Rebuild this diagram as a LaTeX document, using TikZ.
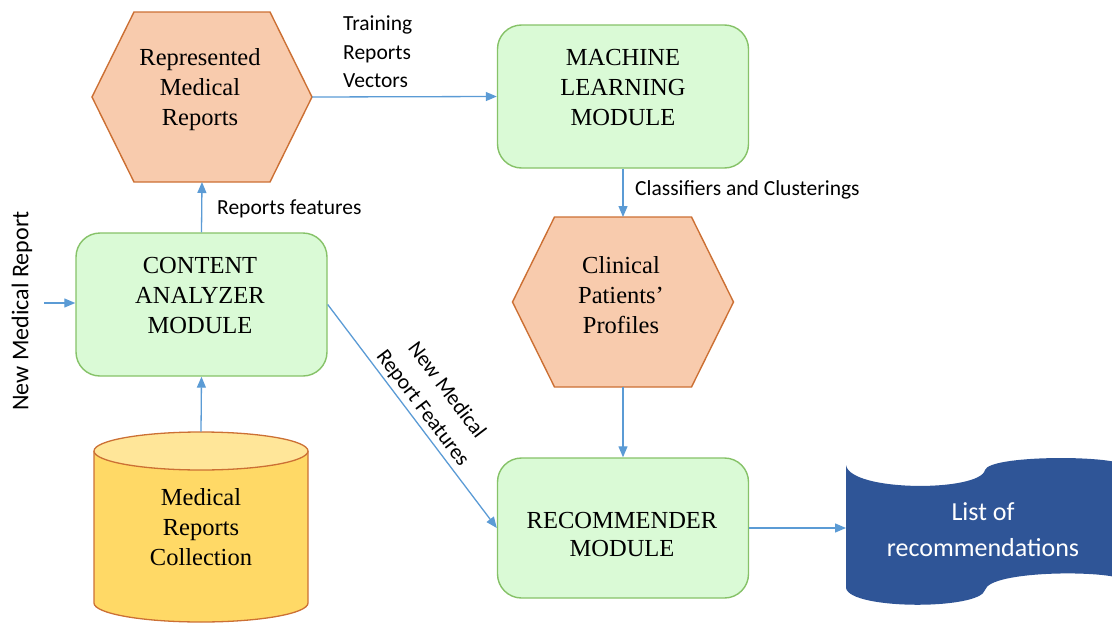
\documentclass[tikz,border=0pt]{standalone}
\usepackage{fontspec}
\setmainfont{Liberation Serif}
\newfontfamily\calib{Carlito}
\usetikzlibrary{arrows.meta,calc}
\definecolor{boxfill}{RGB}{218,250,214}
\definecolor{boxline}{RGB}{134,194,104}
\definecolor{hexfill}{RGB}{248,203,173}
\definecolor{hexline}{RGB}{204,112,52}
\definecolor{cylfill}{RGB}{255,217,102}
\definecolor{cyltop}{RGB}{255,230,153}
\definecolor{cylline}{RGB}{204,112,52}
\definecolor{tapefill}{RGB}{47,85,151}
\definecolor{arrowc}{RGB}{91,155,213}
\begin{document}
\begin{tikzpicture}[x=1pt,y=-1pt,
  module/.style={draw=boxline, fill=boxfill, line width=1.4pt, rounded corners=24pt, minimum width=251pt, minimum height=143pt, inner sep=0pt},
  serif/.style={font=\fontsize{24.5}{30}\selectfont, align=center, inner sep=0pt},
  lbl/.style={font=\calib\fontsize{21.5}{28.5}\selectfont, inner sep=0pt},
  hexshape/.style={draw=hexline, fill=hexfill, line width=1.4pt, line join=miter},
  flow/.style={draw=arrowc, line width=1.3pt, -{Triangle[length=11pt,width=9pt]}},
  ghost/.style={inner sep=0pt, outer sep=0pt}]
\useasboundingbox (0,0) rectangle (1112,624);
\clip (0,0) rectangle (1112,624);

% Represented Medical Reports hexagon
\node[ghost, minimum width=220pt, minimum height=170pt] (rep) at (202,97) {};
\path[hexshape] (rep.west) -- ($(rep.north west)+(42,0)$) -- ($(rep.north east)+(-42,0)$) -- (rep.east) -- ($(rep.south east)+(-42,0)$) -- ($(rep.south west)+(42,0)$) -- cycle;
\node[serif] (reptext) at (200,90) {Represented\\Medical\\Reports};

% Clinical Patients' Profiles hexagon
\node[ghost, minimum width=221pt, minimum height=170pt] (clin) at (623,302) {};
\path[hexshape] (clin.west) -- ($(clin.north west)+(42,0)$) -- ($(clin.north east)+(-42,0)$) -- (clin.east) -- ($(clin.south east)+(-42,0)$) -- ($(clin.south west)+(42,0)$) -- cycle;
\node[serif] (clintext) at (621,295) {Clinical\\Patients’\\Profiles};

% Modules
\node[module] (ml) at (623,96.5) {};
\node[serif] (mltext) at (623,88) {MACHINE\\LEARNING\\MODULE};
\node[module] (ca) at (201.5,304.5) {};
\node[serif] (catext) at (200,296) {CONTENT\\ANALYZER\\MODULE};
\node[module, minimum height=140pt] (rec) at (623,528) {};
\node[serif, font=\fontsize{24.5}{28}\selectfont] (rectext) at (622,535) {RECOMMENDER\\MODULE};

% Cylinder
\node[ghost, minimum width=214pt, minimum height=191pt] (cyl) at (201,527) {};
\path[fill=cylfill, draw=cylline, line width=1.3pt] (94,451) -- (94,603) .. controls (94,613.5) and (141.9,622) .. (201,622) .. controls (260.1,622) and (308,613.5) .. (308,603) -- (308,451);
\path[fill=cyltop, draw=cylline, line width=1.3pt] (201,451) ellipse [x radius=107pt, y radius=19pt];
\node[serif] (cyltext) at (201,527) {Medical\\Reports\\Collection};

% Tape shape
\node[ghost, minimum width=278pt, minimum height=120pt] (tape) at (985,530) {};
\path[fill=tapefill] (846,465) .. controls (850,492) and (980,492) .. (985,470) .. controls (990,455) and (1110,455) .. (1124,465) -- (1124,580) .. controls (1110,570) and (990,570) .. (985,590) .. controls (980,610) and (850,610) .. (846,588) -- cycle;
\node[ghost, font=\calib\fontsize{26}{36}\selectfont, text=white, align=center] (tapetext) at (983,530) {List of\\recommendations};

% Connectors
\draw[flow] (rep.east) -- (ml.west);
\node[lbl, anchor=west, align=left] (trlbl) at (343,52) {Training\\Reports\\Vectors};
\draw[flow] (ca.north) -- (rep.south);
\node[lbl, anchor=west] (rflbl) at (217,209) {Reports features};
\draw[flow] (cyl.north) -- (ca.south);
\coordinate (nmr) at (44,303);
\draw[flow] (nmr) -- (nmr -| ca.west);
\node[ghost, rotate=90, font=\calib\fontsize{24}{28}\selectfont] (nmrlbl) at (22,311) {New Medical Report};
\draw[flow] (ml.south) -- (clin.north);
\node[lbl, anchor=west] (cclbl) at (635,190) {Classifiers and Clusterings};
\draw[flow] (clin.south) -- (rec.north);
\draw[flow] (ca.east) -- node[lbl, sloped, above=3pt, align=center, font=\calib\fontsize{21.5}{30}\selectfont] (nmrf) {New Medical\\Report Features} (rec.west);
\draw[flow] (rec.east) -- (rec.east -| tape.west);
\end{tikzpicture}
\end{document}
